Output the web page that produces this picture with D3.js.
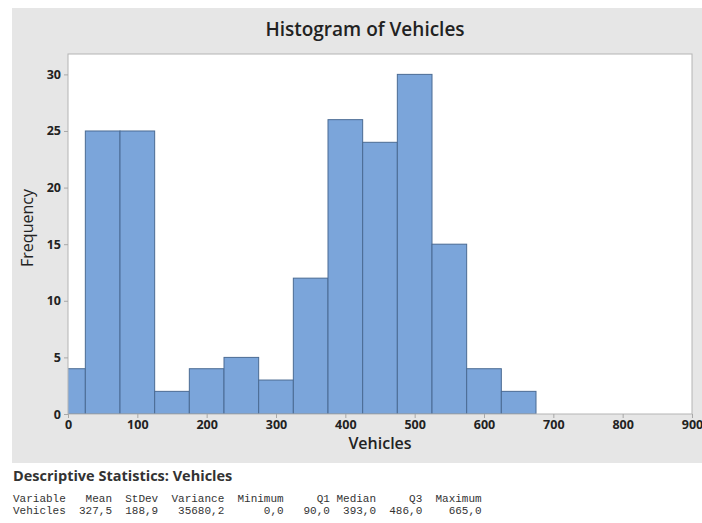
<!DOCTYPE html>
<html>
<head>
<meta charset="utf-8">
<script src="https://cdn.jsdelivr.net/npm/d3@7"></script>
<style>
  body { margin: 0; background: #fff; }
  svg text { font-family: "Open Sans", "Noto Sans", sans-serif; }
  .mono { font-family: "Liberation Mono", "DejaVu Sans Mono", monospace !important; white-space: pre; }
</style>
</head>
<body>
<svg id="chart" width="702" height="523"></svg>
<script>
// histogram bins (midpoints, width 50) and counts
const binMids = [0, 50, 100, 150, 200, 250, 300, 350, 400, 450, 500, 550, 600, 650];
const counts = [4, 25, 25, 2, 4, 5, 3, 12, 26, 24, 30, 15, 4, 2];
const binWidth = 50;
const xTicks = [0, 100, 200, 300, 400, 500, 600, 700, 800, 900];
const yTicks = [0, 5, 10, 15, 20, 25, 30];

const statHeader = 'Variable   Mean  StDev  Variance  Minimum     Q1 Median     Q3  Maximum';
const statRow    = 'Vehicles  327,5  188,9   35680,2      0,0   90,0  393,0  486,0    665,0';

const margin = { top: 54, right: 10, bottom: 109, left: 68 };
const W = 702, H = 523;
const width = W - margin.left - margin.right;
const height = H - margin.top - margin.bottom;

const svg = d3.select('#chart');

// gray graph panel
svg.append('rect')
  .attr('x', 12).attr('y', 8)
  .attr('width', W - 12).attr('height', 455)
  .attr('fill', '#e6e6e6');

const x = d3.scaleLinear().domain([0, 900]).range([0, width]);
const y = d3.scaleLinear().domain([0, 31.8]).range([height, 0]);

const g = svg.append('g').attr('transform', `translate(${margin.left},${margin.top})`);

g.append('rect')
  .attr('width', width).attr('height', height)
  .attr('fill', '#fff');

g.append('clipPath').attr('id', 'clip')
  .append('rect').attr('width', width).attr('height', height);

g.append('g').attr('clip-path', 'url(#clip)')
  .selectAll('rect')
  .data(binMids.map((m, i) => ({ m, c: counts[i] })))
  .join('rect')
  .attr('x', d => x(d.m - binWidth / 2))
  .attr('y', d => y(d.c))
  .attr('width', d => x(d.m + binWidth / 2) - x(d.m - binWidth / 2))
  .attr('height', d => y(0) - y(d.c))
  .attr('fill', '#7ba5da')
  .attr('stroke', '#4b6b93')
  .attr('stroke-width', 1);

g.append('rect')
  .attr('width', width).attr('height', height)
  .attr('fill', 'none')
  .attr('stroke', '#b4b4b4');

// axes
const xAxis = g.append('g')
  .attr('transform', `translate(0,${height})`)
  .call(d3.axisBottom(x).tickValues(xTicks).tickSize(4).tickPadding(2));
const yAxis = g.append('g')
  .call(d3.axisLeft(y).tickValues(yTicks).tickSize(4).tickPadding(3));

[xAxis, yAxis].forEach(a => {
  a.select('.domain').remove();
  a.selectAll('.tick line').attr('stroke', '#a8a8a8');
  a.selectAll('.tick text')
    .attr('fill', '#222')
    .style('font-size', '12.5px')
    .style('font-weight', '700');
});

// titles
svg.append('text')
  .attr('x', 365).attr('y', 36)
  .attr('text-anchor', 'middle')
  .style('font-size', '19px').style('font-weight', '600')
  .attr('fill', '#222')
  .text('Histogram of Vehicles');

svg.append('text')
  .attr('x', margin.left + width / 2).attr('y', 449)
  .attr('text-anchor', 'middle')
  .style('font-size', '16px').style('font-weight', '600')
  .attr('fill', '#222')
  .text('Vehicles');

svg.append('text')
  .attr('transform', `translate(33,228) rotate(-90)`)
  .attr('text-anchor', 'middle')
  .style('font-size', '16px').style('font-weight', '400')
  .attr('fill', '#222')
  .text('Frequency');

// descriptive statistics block
svg.append('text')
  .attr('x', 13).attr('y', 481)
  .style('font-size', '14.5px').style('font-weight', '700')
  .attr('fill', '#333')
  .text('Descriptive Statistics: Vehicles');

[statHeader, statRow].forEach((line, i) => {
  svg.append('text')
    .attr('class', 'mono')
    .attr('x', 13).attr('y', 502 + i * 12)
    .style('font-size', '11px')
    .attr('fill', '#333')
    .text(line);
});
</script>
</body>
</html>
